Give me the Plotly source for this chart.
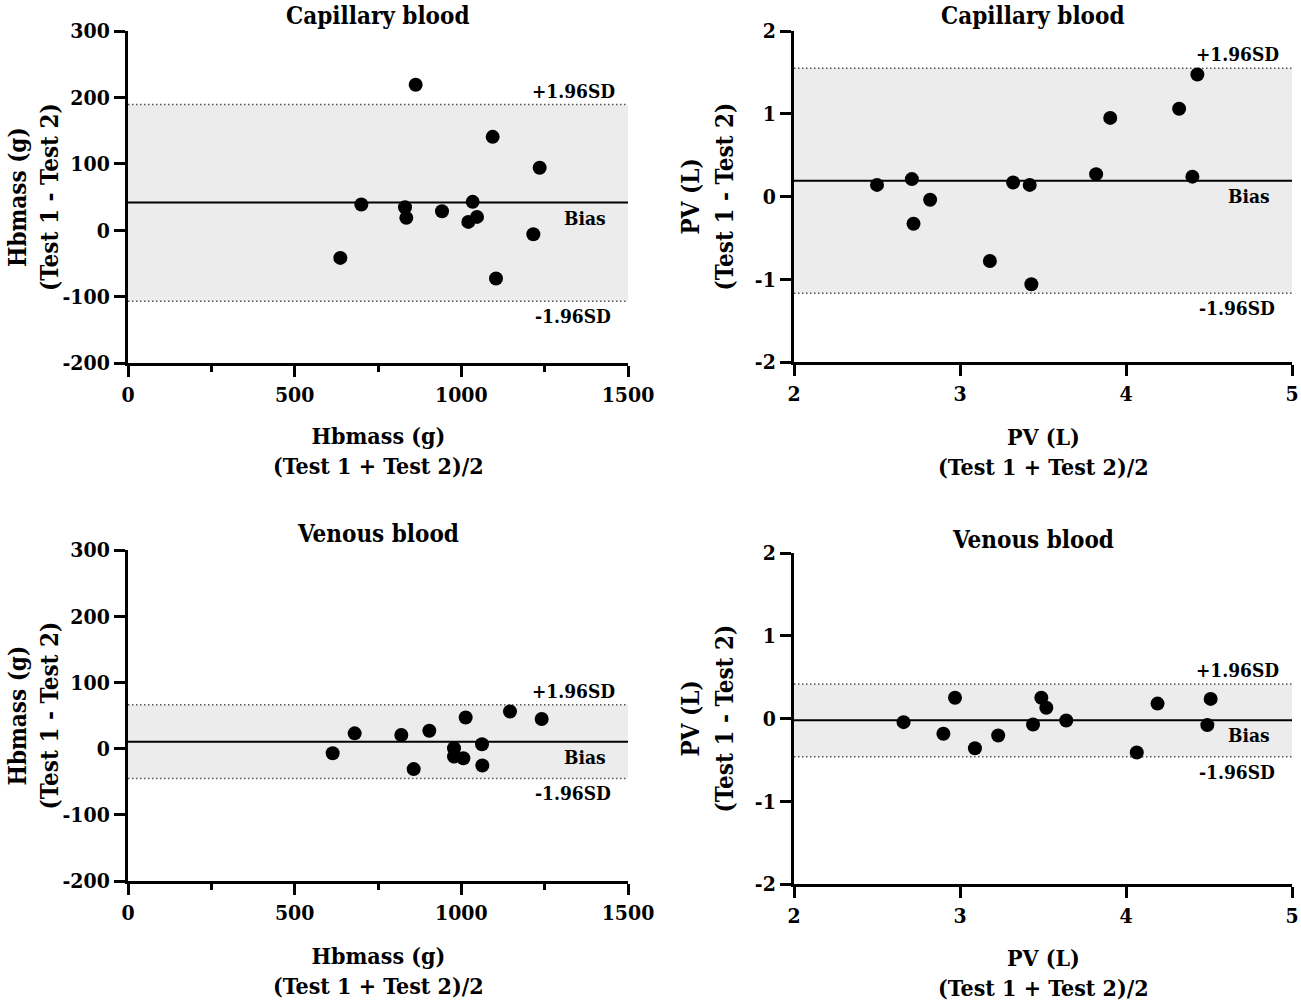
import plotly.graph_objects as go

# Bland-Altman data: mean of the two tests and their difference
cap_hb_mean = [637, 700, 831, 835, 863, 942, 1021, 1034, 1047, 1094, 1104, 1216, 1235]
cap_hb_diff = [-41.7, 38.7, 34.6, 18.6, 219, 28.6, 12.5, 42.7, 20, 140.6, -72.8, -6, 94]

cap_pv_mean = [2.50, 2.71, 2.72, 2.82, 3.18, 3.32, 3.42, 3.43, 3.82, 3.905, 4.32, 4.40, 4.43]
cap_pv_diff = [0.14, 0.21, -0.33, -0.04, -0.78, 0.17, 0.14, -1.06, 0.27, 0.95, 1.06, 0.24, 1.475]

ven_hb_mean = [614, 680, 820, 857, 904, 978, 978, 1006, 1013, 1062, 1063, 1146, 1241]
ven_hb_diff = [-7, 23, 20.6, -31, 27, 0.5, -12, -14.5, 47, 6.5, -25.6, 56, 44.6]

ven_pv_mean = [2.66, 2.90, 2.97, 3.09, 3.23, 3.44, 3.49, 3.52, 3.64, 4.065, 4.19, 4.49, 4.51]
ven_pv_diff = [-0.044, -0.185, 0.25, -0.36, -0.205, -0.072, 0.25, 0.13, -0.024, -0.41, 0.18, -0.08, 0.237]

# bias, +1.96SD, -1.96SD
cap_hb_limits = [41.7, 189.3, -106.9]
cap_pv_limits = [0.19, 1.55, -1.17]
ven_hb_limits = [10.5, 66.2, -45.1]
ven_pv_limits = [-0.02, 0.418, -0.462]

hb_ticks = [-200, -100, 0, 100, 200, 300]
hb_ticktext = ['-200', '-100', '0', '100', '200', '300']
pv_ticks = [-2, -1, 0, 1, 2]
pv_ticktext = ['-2', '-1', '0', '1', '2']
hb_xticks = [0, 500, 1000, 1500]
pv_xticks = [2, 3, 4, 5]

W, H = 1301, 1006
FONT = 'DejaVu Serif Condensed, DejaVu Serif, serif'


def fx(px):
    return px / W


def fy(py):
    return 1 - py / H


panels = [
    dict(x=cap_hb_mean, y=cap_hb_diff, lim=cap_hb_limits, title='Capillary blood', var='Hbmass (g)',
         xr=[0, 1500], yr=[-200, 300], xt=hb_xticks, yt=hb_ticks, ytt=hb_ticktext, minor=250,
         px=(128, 628), py=(31, 363), tx=378, ty=16, xl=450, yl=(17, 49)),
    dict(x=cap_pv_mean, y=cap_pv_diff, lim=cap_pv_limits, title='Capillary blood', var='PV (L)',
         xr=[2, 5], yr=[-2, 2], xt=pv_xticks, yt=pv_ticks, ytt=pv_ticktext, minor=None,
         px=(794, 1292), py=(31, 362), tx=1033, ty=15, xl=452, yl=(690, 724)),
    dict(x=ven_hb_mean, y=ven_hb_diff, lim=ven_hb_limits, title='Venous blood', var='Hbmass (g)',
         xr=[0, 1500], yr=[-200, 300], xt=hb_xticks, yt=hb_ticks, ytt=hb_ticktext, minor=250,
         px=(128, 628), py=(550, 881), tx=378, ty=533, xl=970, yl=(17, 49)),
    dict(x=ven_pv_mean, y=ven_pv_diff, lim=ven_pv_limits, title='Venous blood', var='PV (L)',
         xr=[2, 5], yr=[-2, 2], xt=pv_xticks, yt=pv_ticks, ytt=pv_ticktext, minor=None,
         px=(794, 1292), py=(553, 884), tx=1033, ty=539, xl=972, yl=(690, 724)),
]

fig = go.Figure()
shapes, annotations = [], []


def ann(text, x, y, size, **kw):
    return dict(text=text, x=x, y=y, showarrow=False,
                font=dict(family=FONT, size=size, color='black', weight='bold'), **kw)


for i, p in enumerate(panels, start=1):
    sfx = '' if i == 1 else str(i)
    xref, yref = 'x' + sfx, 'y' + sfx
    bias, upper, lower = p['lim']
    x0, x1 = p['xr']

    fig.add_trace(go.Scatter(x=p['x'], y=p['y'], mode='markers', xaxis=xref, yaxis=yref,
                             marker=dict(color='black', size=14), cliponaxis=False, showlegend=False))

    shapes.append(dict(type='rect', xref=xref, yref=yref, x0=x0, x1=x1, y0=lower, y1=upper,
                       fillcolor='#ececec', line=dict(width=0), layer='below'))
    for lv in (upper, lower):
        shapes.append(dict(type='line', xref=xref, yref=yref, x0=x0, x1=x1, y0=lv, y1=lv,
                           line=dict(color='#555555', width=1.5, dash='1.5px,2.5px'), layer='below'))
    shapes.append(dict(type='line', xref=xref, yref=yref, x0=x0, x1=x1, y0=bias, y1=bias,
                       line=dict(color='black', width=2), layer='below'))

    annotations.append(ann('+1.96SD', x1, upper, 19, xref=xref, yref=yref, xanchor='right',
                           yanchor='bottom', xshift=-11, yshift=1))
    annotations.append(ann('-1.96SD', x1, lower, 19, xref=xref, yref=yref, xanchor='right',
                           yanchor='top', xshift=-15, yshift=-2))
    annotations.append(ann('Bias', x1, bias, 19, xref=xref, yref=yref, xanchor='right',
                           yanchor='top', xshift=-20, yshift=-2))

    annotations.append(ann(p['title'], fx(p['tx']), fy(p['ty']), 24, xref='paper', yref='paper',
                           xanchor='center', yanchor='middle'))
    cx = fx((p['px'][0] + p['px'][1]) / 2)
    annotations.append(ann(p['var'] + '<br>(Test 1 + Test 2)/2', cx, fy(p['xl']), 23,
                           xref='paper', yref='paper', xanchor='center', yanchor='middle'))
    cy = fy((p['py'][0] + p['py'][1]) / 2)
    annotations.append(ann(p['var'], fx(p['yl'][0]), cy, 24, xref='paper', yref='paper',
                           xanchor='center', yanchor='middle', textangle=-90))
    annotations.append(ann('(Test 1 - Test 2)', fx(p['yl'][1]), cy, 24, xref='paper', yref='paper',
                           xanchor='center', yanchor='middle', textangle=-90))

    axis_common = dict(showgrid=False, zeroline=False, showline=True, linecolor='black', linewidth=3,
                       ticks='outside', tickcolor='black', tickwidth=3, ticklen=11, automargin=False,
                       tickfont=dict(family=FONT, size=21, color='black', weight='bold'))
    xa = dict(axis_common, domain=[fx(p['px'][0]), fx(p['px'][1])], range=p['xr'],
              tickvals=p['xt'], anchor=yref)
    if p['minor']:
        xa['minor'] = dict(dtick=p['minor'], ticks='outside', ticklen=6, tickwidth=3, tickcolor='black')
    ya = dict(axis_common, domain=[fy(p['py'][1]), fy(p['py'][0])], range=p['yr'],
              tickvals=p['yt'], ticktext=p['ytt'], anchor=xref)
    fig.update_layout(**{'xaxis' + sfx: xa, 'yaxis' + sfx: ya})

fig.update_layout(width=W, height=H, margin=dict(l=0, r=0, t=0, b=0, pad=0, autoexpand=False),
                  paper_bgcolor='white', plot_bgcolor='white', hovermode=False,
                  shapes=shapes, annotations=annotations, showlegend=False)

# drop the default 8px body margin so the figure fills the window exactly
fig.write_html('out.html', config={'displayModeBar': False, 'staticPlot': True},
               post_script="document.body.style.margin = '0';")
